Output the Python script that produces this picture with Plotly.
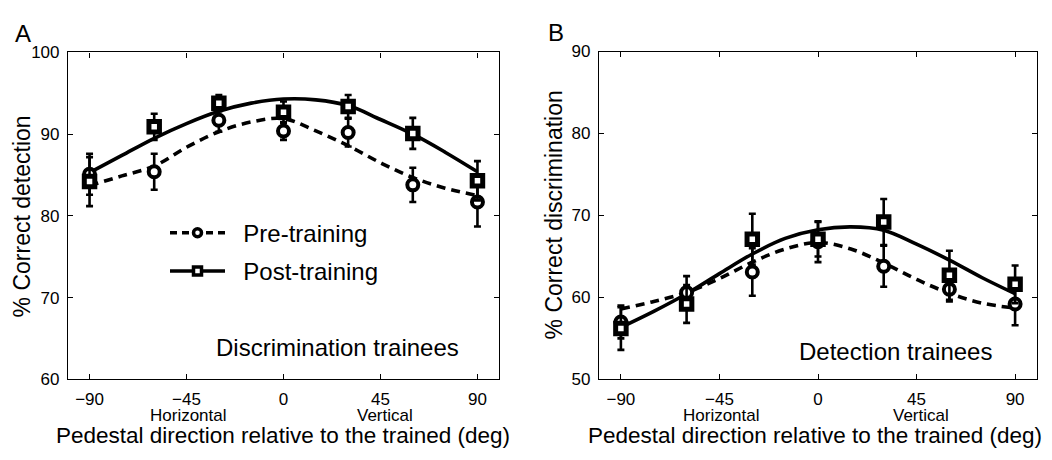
import plotly.graph_objects as go

# ---------------- data ----------------
angles = [-90, -60, -30, 0, 30, 60, 90]

A_pre = [85.1, 85.4, 91.7, 90.4, 90.2, 83.8, 81.7]
A_pre_err = [2.5, 2.2, 1.4, 1.1, 1.7, 2.1, 3.0]
A_post = [84.2, 90.9, 93.8, 92.7, 93.4, 90.1, 84.3]
A_post_err = [3.0, 1.6, 1.0, 1.3, 1.4, 1.9, 2.4]

B_pre = [57.0, 60.6, 63.1, 66.8, 63.8, 61.0, 59.2]
B_pre_err = [2.0, 2.0, 2.9, 2.5, 2.5, 1.5, 2.6]
B_post = [56.2, 59.2, 67.1, 67.1, 69.2, 62.7, 61.6]
B_post_err = [2.6, 2.3, 3.1, 2.1, 2.8, 3.0, 2.3]

fit_x = [-90, -75, -60, -45, -30, -15, 0, 15, 30, 45, 60, 75, 90]
A_pre_fit = [83.7, 84.9, 86.1, 88.4, 90.3, 91.5, 91.9, 90.4, 88.6, 86.5, 84.7, 83.4, 82.5]
A_post_fit = [85.3, 87.4, 89.5, 91.3, 92.8, 93.8, 94.3, 94.2, 93.5, 91.8, 90.0, 87.8, 85.4]
B_pre_fit = [58.6, 59.5, 60.6, 62.3, 64.3, 65.9, 66.7, 65.9, 64.2, 62.2, 60.5, 59.3, 58.7]
B_post_fit = [56.35, 58.3, 60.45, 62.9, 65.3, 67.2, 68.25, 68.6, 68.2, 66.5, 64.55, 62.4, 60.45]

x_ticks = [-90, -45, 0, 45, 90]
series_names = ["Pre-training", "Post-training"]

# ---------------- figure ----------------
FONT = "Liberation Sans, Arial, Helvetica, sans-serif"
BLACK = "#000000"
LW = 3.6
DASH = "9px,6px"

fig = go.Figure()


def add_panel(xa, ya, pre, pre_err, post, post_err, pre_fit, post_fit):
    fig.add_trace(go.Scatter(x=fit_x, y=pre_fit, mode="lines", xaxis=xa, yaxis=ya,
                             line=dict(color=BLACK, width=LW, dash=DASH, shape="spline", smoothing=1.0),
                             showlegend=False, hoverinfo="skip"))
    fig.add_trace(go.Scatter(x=fit_x, y=post_fit, mode="lines", xaxis=xa, yaxis=ya,
                             line=dict(color=BLACK, width=LW, shape="spline", smoothing=1.0),
                             showlegend=False, hoverinfo="skip"))
    fig.add_trace(go.Scatter(x=angles, y=pre, mode="markers", xaxis=xa, yaxis=ya,
                             marker=dict(symbol="circle", size=11, color="white",
                                         line=dict(color=BLACK, width=4)),
                             error_y=dict(type="data", array=pre_err, visible=True,
                                          color=BLACK, thickness=2.6, width=3.5),
                             showlegend=False, name=series_names[0]))
    fig.add_trace(go.Scatter(x=angles, y=post, mode="markers", xaxis=xa, yaxis=ya,
                             marker=dict(symbol="square", size=10.5, color="white",
                                         line=dict(color=BLACK, width=5)),
                             error_y=dict(type="data", array=post_err, visible=True,
                                          color=BLACK, thickness=2.6, width=3.5),
                             showlegend=False, name=series_names[1]))


add_panel("x", "y", A_pre, A_pre_err, A_post, A_post_err, A_pre_fit, A_post_fit)
add_panel("x2", "y2", B_pre, B_pre_err, B_post, B_post_err, B_pre_fit, B_post_fit)

# legend entries (two non-breaking spaces widen the gap between symbol and text)
GAP = "&nbsp;&nbsp;"
fig.add_trace(go.Scatter(x=[None], y=[None], mode="lines+markers", name=GAP + series_names[0],
                         legendgroup="g1",
                         line=dict(color=BLACK, width=LW, dash="7px,5px"),
                         marker=dict(symbol="circle", size=8, color="white",
                                     line=dict(color=BLACK, width=3.5))))
fig.add_trace(go.Scatter(x=[None], y=[None], mode="lines+markers", name=GAP + series_names[1],
                         legendgroup="g2",
                         line=dict(color=BLACK, width=LW),
                         marker=dict(symbol="square", size=8, color="white",
                                     line=dict(color=BLACK, width=3.5))))

W, H = 1052, 460
OFF = 8  # page body margin offset


def px_x(p):
    return (p - OFF) / W


def px_y(p):
    return 1 - (p - OFF) / H


axis_common = dict(
    showline=True, linecolor=BLACK, linewidth=1.2, mirror="ticks",
    ticks="inside", ticklen=5, tickwidth=1.2, tickcolor=BLACK,
    showgrid=False, zeroline=False,
    tickfont=dict(family=FONT, size=17, color=BLACK),
)

fig.update_layout(
    width=W, height=H,
    margin=dict(l=0, r=0, t=0, b=0),
    paper_bgcolor="white", plot_bgcolor="white",
    font=dict(family=FONT, color=BLACK),
    xaxis=dict(domain=[px_x(68), px_x(499)], range=[-100, 100], tickvals=x_ticks,
               anchor="y", ticklabelstandoff=4, **axis_common),
    yaxis=dict(domain=[px_y(386), px_y(45)], range=[60, 100], dtick=10,
               anchor="x", ticklabelstandoff=4, **axis_common),
    xaxis2=dict(domain=[px_x(599), px_x(1037)], range=[-100, 100], tickvals=x_ticks,
                anchor="y2", ticklabelstandoff=4, **axis_common),
    yaxis2=dict(domain=[px_y(386), px_y(44)], range=[50, 90], dtick=10,
                anchor="x2", ticklabelstandoff=4, **axis_common),
    showlegend=True,
    legend=dict(x=px_x(165), y=px_y(210), xanchor="left", yanchor="top",
                bgcolor="rgba(0,0,0,0)", borderwidth=0,
                font=dict(family=FONT, size=24, color=BLACK),
                itemwidth=55, tracegroupgap=4, traceorder="grouped"),
)

ann = []


def text(x, y, s, size, xref="paper", yref="paper", xanchor="center", yanchor="middle", angle=0):
    ann.append(dict(x=x, y=y, xref=xref, yref=yref, text=s, showarrow=False,
                    xanchor=xanchor, yanchor=yanchor, textangle=angle,
                    font=dict(family=FONT, size=size, color=BLACK)))


# panel letters
text(px_x(13), px_y(25), "A", 24, xanchor="left")
text(px_x(546), px_y(24), "B", 24, xanchor="left")
# y titles
text(px_x(22), px_y(216), "% Correct detection", 23, angle=-90)
text(px_x(554), px_y(215), "% Correct discrimination", 23, angle=-90)
# x titles
text(px_x(283), px_y(445), "Pedestal direction relative to the trained (deg)", 22.5)
text(px_x(815), px_y(445), "Pedestal direction relative to the trained (deg)", 22.5)
# Horizontal / Vertical labels
for xr in ("x", "x2"):
    text(-44, px_y(424), "Horizontal", 17, xref=xr)
    text(47, px_y(424), "Vertical", 17, xref=xr)
# panel annotations
text(px_x(337), px_y(353), "Discrimination trainees", 24)
text(px_x(895), px_y(357), "Detection trainees", 24)

fig.update_layout(annotations=ann)

fig.write_html("out.html")
